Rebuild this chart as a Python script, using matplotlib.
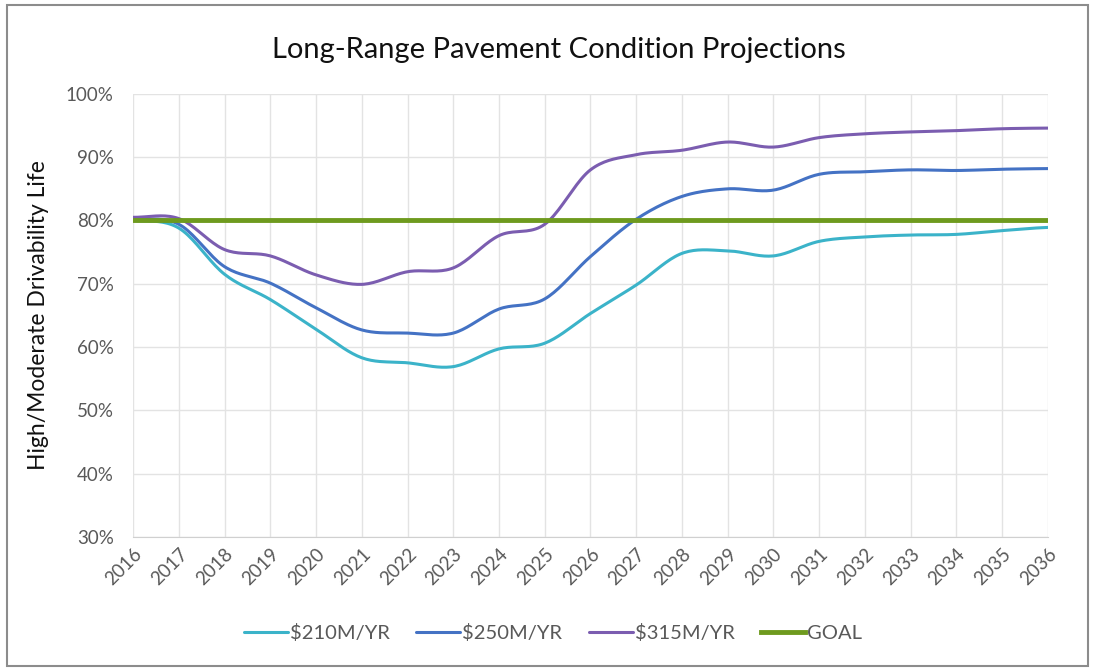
import numpy as np
import matplotlib
matplotlib.use("Agg")
import matplotlib.pyplot as plt
from matplotlib.patches import Rectangle

years = list(range(2016, 2037))
s210 = [80.0, 78.8, 71.5, 67.5, 62.8, 58.3, 57.5, 56.9, 59.7, 60.6, 65.3, 69.8, 74.8, 75.2, 74.4, 76.7, 77.4, 77.7, 77.8, 78.4, 78.9]
s250 = [80.2, 79.4, 72.7, 70.1, 66.2, 62.7, 62.2, 62.2, 66.0, 67.6, 74.3, 80.2, 83.8, 85.0, 84.8, 87.3, 87.7, 88.0, 87.9, 88.1, 88.2]
s315 = [80.5, 80.3, 75.4, 74.4, 71.4, 69.9, 71.9, 72.5, 77.6, 79.4, 88.0, 90.4, 91.1, 92.4, 91.6, 93.1, 93.7, 94.0, 94.2, 94.5, 94.6]
goal = [80.0] * len(years)
series_names = ["$210M/YR", "$250M/YR", "$315M/YR", "GOAL"]
colors = ["#3BB3C9", "#4472C4", "#7B5DB0", "#6E9A1E"]
y_ticks = [30, 40, 50, 60, 70, 80, 90, 100]


def smooth(x, y, n=20):
    # Catmull-Rom style smoothing similar to spreadsheet "smoothed line"
    x = np.asarray(x, float)
    y = np.asarray(y, float)
    px = np.concatenate([[2 * x[0] - x[1]], x, [2 * x[-1] - x[-2]]])
    py = np.concatenate([[y[0]], y, [y[-1]]])
    xs, ys = [], []
    t = np.linspace(0, 1, n, endpoint=False)
    for i in range(1, len(px) - 2):
        p0, p1, p2, p3 = (px[i - 1], py[i - 1]), (px[i], py[i]), (px[i + 1], py[i + 1]), (px[i + 2], py[i + 2])
        for k, arr in ((0, xs), (1, ys)):
            a0, a1, a2, a3 = p0[k], p1[k], p2[k], p3[k]
            c1 = a1 + (a2 - a0) / 6
            c2 = a2 - (a3 - a1) / 6
            arr.extend((1 - t) ** 3 * a1 + 3 * (1 - t) ** 2 * t * c1 + 3 * (1 - t) * t ** 2 * c2 + t ** 3 * a2)
    xs.append(x[-1]); ys.append(y[-1])
    return np.array(xs), np.array(ys)


plt.rcParams['font.family'] = ['Lato', 'DejaVu Sans']
fig = plt.figure(figsize=(10.95, 6.71), dpi=100)
fig.patches.append(Rectangle((0.006, 0.008), 0.988, 0.985, transform=fig.transFigure,
                             fill=False, edgecolor="#8C8C8C", linewidth=1.5))

ax = fig.add_axes([0.1215, 0.2, 0.8355, 0.66])
xi = np.arange(len(years))
for vals, name, c in zip([s210, s250, s315], series_names[:3], colors[:3]):
    sx, sy = smooth(xi, vals)
    ax.plot(sx, sy, color=c, lw=2.2, label=name, solid_capstyle="round")
ax.plot(xi, goal, color=colors[3], lw=3.5, label=series_names[3])

ax.set_xlim(0, len(years) - 1)
ax.set_ylim(30, 100)
ax.set_yticks(y_ticks)
ax.set_yticklabels([f"{v}%" for v in y_ticks])
ax.set_xticks(xi)
ax.set_xticklabels([str(y) for y in years], rotation=45, ha="right", rotation_mode="anchor")
ax.grid(True, color="#E3E3E3", lw=1)
ax.set_axisbelow(True)
for s in ["top", "right", "left"]:
    ax.spines[s].set_visible(False)
ax.spines["bottom"].set_color("#D0D0D0")
ax.tick_params(axis="both", length=0, colors="#595959", labelsize=13.5)
ax.tick_params(axis="y", pad=14)
ax.tick_params(axis="x", pad=6)
ax.set_ylabel("High/Moderate Drivability Life", fontsize=16.5, color="#111111", labelpad=12)
fig.text(0.51, 0.925, "Long-Range Pavement Condition Projections", ha="center", va="center",
         fontsize=21, color="#111111")
fig.legend(loc="center", bbox_to_anchor=(0.505, 0.057), ncol=4, frameon=False, fontsize=14.5,
           handlelength=2.2, columnspacing=1.3, handletextpad=0.1, labelcolor="#595959")
fig.savefig("out.png", dpi=100)
